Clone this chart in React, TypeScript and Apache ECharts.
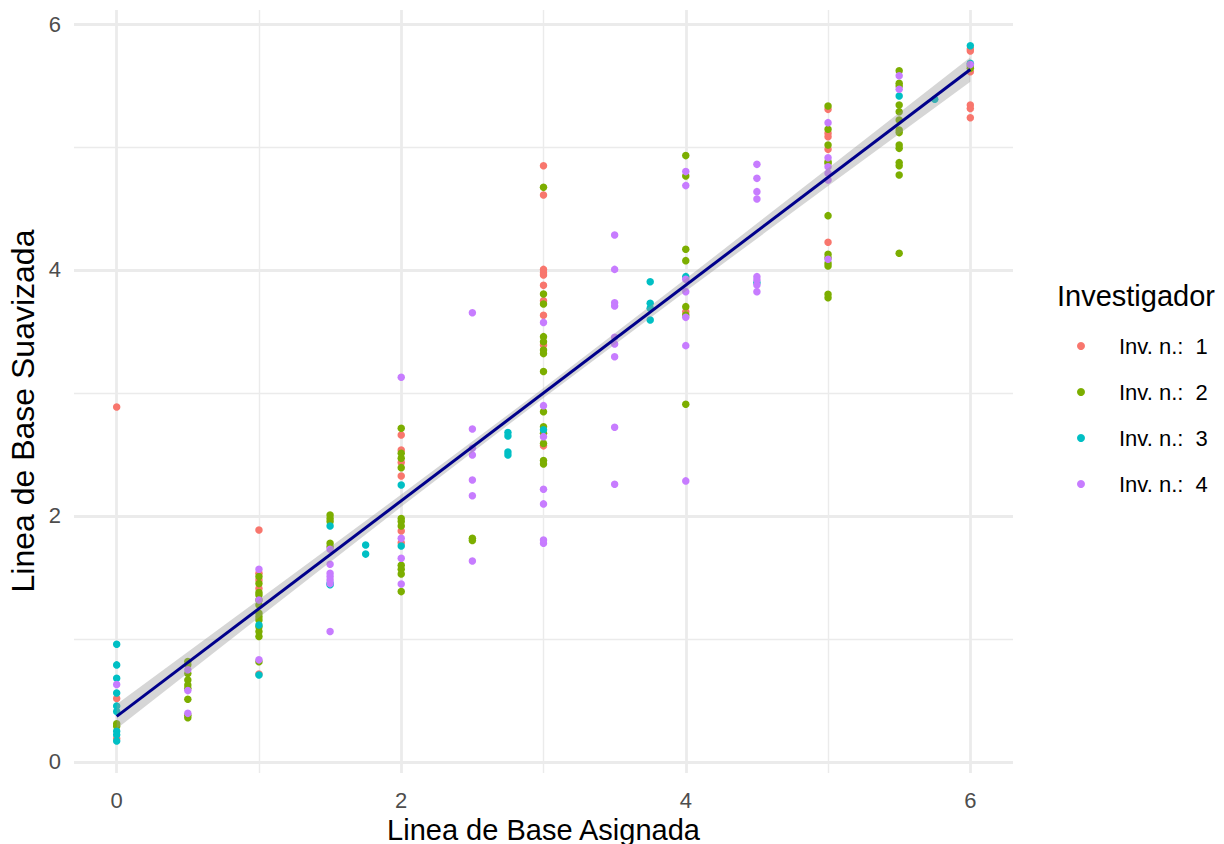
import React, { useEffect, useRef } from "react";
import * as echarts from "echarts";

const FONT = '"Liberation Sans", Arial, Helvetica, sans-serif';

// Tick labels
const xTicks = [0, 2, 4, 6];
const yTicks = [0, 2, 4, 6];
const xMinor = [1, 3, 5];
const yMinor = [1, 3, 5];

// Titles
const xTitle = "Linea de Base Asignada";
const yTitle = "Linea de Base Suavizada";
const legendTitle = "Investigador";

// Legend / series names
const invNames = ["Inv. n.:  1", "Inv. n.:  2", "Inv. n.:  3", "Inv. n.:  4"];
const invColors = ["#F8766D", "#7CAE00", "#00BFC4", "#C77CFF"];

// Investigator 1 [asignada, suavizada]
const inv1: number[][] = [
  [0, 2.886], [0, 0.515], [0, 0.19],
  [1, 1.886], [1, 1.534], [1, 1.48], [1, 1.41], [1, 0.715],
  [2, 2.659], [2, 2.537], [2, 2.434], [2, 2.325], [2, 1.878], [2, 1.783],
  [3, 4.848], [3, 4.61], [3, 4.005], [3, 3.978], [3, 3.959], [3, 3.875], [3, 3.75], [3, 3.631], [3, 3.39], [3, 2.57],
  [4, 3.661],
  [5, 5.306], [5, 5.111], [5, 5.084], [5, 4.981], [5, 4.225],
  [6, 5.797], [6, 5.78], [6, 5.612], [6, 5.341], [6, 5.314], [6, 5.238],
];

// Investigator 2
const inv2: number[][] = [
  [0, 0.31], [0, 0.29],
  [0.5, 0.816], [0.5, 0.79], [0.5, 0.72], [0.5, 0.667], [0.5, 0.626], [0.5, 0.6], [0.5, 0.51], [0.5, 0.38], [0.5, 0.36],
  [1, 1.507], [1, 1.45], [1, 1.377], [1, 1.358], [1, 1.317], [1, 1.276], [1, 1.209], [1, 1.18], [1, 1.154], [1, 1.1], [1, 1.06], [1, 1.02], [1, 0.815],
  [1.5, 2.008], [1.5, 1.98], [1.5, 1.954], [1.5, 1.778], [1.5, 1.75],
  [2, 2.713], [2, 2.51], [2, 2.469], [2, 2.393], [2, 1.98], [2, 1.954], [2, 1.919], [2, 1.6], [2, 1.567], [2, 1.528], [2, 1.385],
  [2.5, 1.818], [2.5, 1.8],
  [3, 4.672], [3, 3.805], [3, 3.723], [3, 3.458], [3, 3.417], [3, 3.35], [3, 3.32], [3, 3.174], [3, 2.848], [3, 2.726], [3, 2.672], [3, 2.59], [3, 2.45], [3, 2.423],
  [4, 4.93], [4, 4.764], [4, 4.168], [4, 4.076], [4, 3.702], [4, 3.634], [4, 2.908],
  [5, 5.333], [5, 5.144], [5, 5.016], [5, 4.881], [5, 4.868], [5, 4.442], [5, 4.127], [5, 4.1], [5, 4.054], [5, 4.033], [5, 3.802], [5, 3.775],
  [5.5, 5.62], [5.5, 5.518], [5.5, 5.496], [5.5, 5.342], [5.5, 5.287], [5.5, 5.22], [5.5, 5.138], [5.5, 5.117], [5.5, 5.016], [5.5, 4.989], [5.5, 4.873], [5.5, 4.848], [5.5, 4.772], [5.5, 4.136],
  [6, 5.659], [6, 5.64],
];

// Investigator 3
const inv3: number[][] = [
  [0, 0.957], [0, 0.789], [0, 0.68], [0, 0.56], [0, 0.455], [0, 0.41], [0, 0.25], [0, 0.22], [0, 0.17],
  [1, 0.707], [1, 1.114],
  [1.5, 1.919], [1.5, 1.45], [1.5, 1.44],
  [1.75, 1.764], [1.75, 1.69],
  [2, 2.252], [2, 1.756],
  [2.75, 2.678], [2.75, 2.65], [2.75, 2.52], [2.75, 2.496],
  [3, 2.7],
  [3.75, 3.905], [3.75, 3.729], [3.75, 3.688], [3.75, 3.593],
  [4, 3.946],
  [4.5, 3.897],
  [5.5, 5.415],
  [5.75, 5.388],
  [6, 5.824], [6, 5.68],
];

// Investigator 4
const inv4: number[][] = [
  [0, 0.63],
  [0.5, 0.75], [0.5, 0.58], [0.5, 0.395],
  [1, 1.567], [1, 1.317], [1, 0.83],
  [1.5, 1.73], [1.5, 1.607], [1.5, 1.534], [1.5, 1.507], [1.5, 1.48], [1.5, 1.45], [1.5, 1.06],
  [2, 3.128], [2, 1.818], [2, 1.656], [2, 1.447],
  [2.5, 3.653], [2.5, 2.707], [2.5, 2.55], [2.5, 2.496], [2.5, 2.293], [2.5, 2.165], [2.5, 1.634],
  [3, 3.574], [3, 2.897], [3, 2.645], [3, 2.217], [3, 2.098], [3, 1.805], [3, 1.778],
  [3.5, 4.285], [3.5, 4.005], [3.5, 3.734], [3.5, 3.707], [3.5, 3.453], [3.5, 3.398], [3.5, 3.295], [3.5, 2.721], [3.5, 2.258],
  [4, 4.8], [4, 4.686], [4, 3.924], [4, 3.824], [4, 3.615], [4, 3.385], [4, 2.285],
  [4.5, 4.859], [4.5, 4.745], [4.5, 4.637], [4.5, 4.577], [4.5, 3.946], [4.5, 3.919], [4.5, 3.878], [4.5, 3.824],
  [5, 5.198], [5, 4.913], [5, 4.84], [5, 4.786], [5, 4.732], [5, 4.087],
  [5.5, 5.58], [5.5, 5.469],
  [6, 5.67],
];

// Fitted regression line and its confidence band
const fitX = [0, 6];
const fitY = [0.37, 5.63];
const bandX = [0, 1, 2, 3, 4, 5, 6];
const bandLow = [0.27, 1.174, 2.074, 2.96, 3.828, 4.682, 5.53];
const bandHigh = [0.47, 1.32, 2.174, 3.04, 3.928, 4.828, 5.73];

const invData = [inv1, inv2, inv3, inv4];

export default function App() {
  const ref = useRef<HTMLDivElement>(null);

  useEffect(() => {
    if (!ref.current) return;
    const chart = echarts.init(ref.current, undefined, { renderer: "svg" });

    const majorStyle = { color: "#EBEBEB", width: 2.8, type: "solid" as const };
    const minorStyle = { color: "#EBEBEB", width: 1.4, type: "solid" as const };

    const gridLines = [
      ...xMinor.map((v) => ({ xAxis: v, lineStyle: minorStyle })),
      ...yMinor.map((v) => ({ yAxis: v, lineStyle: minorStyle })),
      ...xTicks.map((v) => ({ xAxis: v, lineStyle: majorStyle })),
      ...yTicks.map((v) => ({ yAxis: v, lineStyle: majorStyle })),
    ];

    const option: any = {
      animation: false,
      backgroundColor: "#FFFFFF",
      textStyle: { fontFamily: FONT },
      title: {
        text: legendTitle,
        left: 1057,
        top: 281,
        padding: 0,
        textStyle: { fontSize: 29, fontWeight: "normal", color: "#000000", fontFamily: FONT },
      },
      graphic: [
        {
          type: "text",
          x: 23,
          y: 411,
          rotation: Math.PI / 2,
          silent: true,
          style: {
            text: yTitle,
            fontSize: 32,
            fontFamily: FONT,
            fill: "#000000",
            align: "center",
            verticalAlign: "middle",
          },
        },
      ],
      legend: {
        data: invNames,
        orient: "vertical",
        left: 1077,
        top: 335,
        padding: 0,
        icon: "circle",
        itemWidth: 8,
        itemHeight: 8,
        itemGap: 24,
        selectedMode: false,
        textStyle: {
          fontSize: 22,
          lineHeight: 22,
          color: "#000000",
          fontFamily: FONT,
          padding: [0, 0, 0, 29],
        },
      },
      grid: {
        left: 74,
        right: 211,
        top: 10,
        bottom: 71,
        containLabel: false,
        outerBoundsMode: "none",
      },
      xAxis: {
        type: "value",
        min: -0.3,
        max: 6.3,
        name: xTitle,
        nameLocation: "middle",
        nameGap: 37,
        nameTextStyle: { fontSize: 29, color: "#000000", fontFamily: FONT },
        axisLine: { show: false },
        axisTick: { show: false },
        splitLine: { show: false },
        axisLabel: {
          customValues: xTicks,
          fontSize: 22,
          color: "#4D4D4D",
          margin: 16,
          fontFamily: FONT,
        },
      },
      yAxis: {
        type: "value",
        min: -0.09,
        max: 6.114,
        axisLine: { show: false },
        axisTick: { show: false },
        splitLine: { show: false },
        axisLabel: {
          customValues: yTicks,
          fontSize: 22,
          color: "#4D4D4D",
          margin: 13,
          fontFamily: FONT,
        },
      },
      series: [
        {
          type: "line",
          name: "grid",
          data: [],
          z: 0,
          silent: true,
          markLine: {
            z: 0,
            silent: true,
            symbol: ["none", "none"],
            label: { show: false },
            emphasis: { disabled: true },
            animation: false,
            data: gridLines,
          },
        },
        ...invData.map((d, i) => ({
          type: "scatter",
          name: invNames[i],
          data: d,
          symbol: "circle",
          symbolSize: 7.5,
          z: 2,
          itemStyle: { color: invColors[i], opacity: 1 },
        })),
        {
          type: "custom",
          name: "band",
          z: 3,
          silent: true,
          data: bandX.map((x, i) => [x, bandLow[i], bandHigh[i]]),
          encode: { x: 0, y: [1, 2] },
          renderItem: (params: any, api: any) => {
            if (params.dataIndex !== 0) return null;
            const pts: number[][] = [];
            for (let i = 0; i < bandX.length; i++) pts.push(api.coord([bandX[i], bandHigh[i]]));
            for (let i = bandX.length - 1; i >= 0; i--) pts.push(api.coord([bandX[i], bandLow[i]]));
            return {
              type: "polygon",
              shape: { points: pts },
              style: { fill: "rgba(153,153,153,0.4)", stroke: "none" },
            };
          },
        },
        {
          type: "line",
          name: "fit",
          z: 4,
          silent: true,
          data: fitX.map((x, i) => [x, fitY[i]]),
          symbol: "none",
          lineStyle: { color: "#00008B", width: 3 },
        },
      ],
    };

    chart.setOption(option);
    return () => chart.dispose();
  }, []);

  return (
    <div
      ref={ref}
      style={{ position: "fixed", left: 0, top: 0, width: 1224, height: 844, background: "#FFFFFF" }}
    />
  );
}
